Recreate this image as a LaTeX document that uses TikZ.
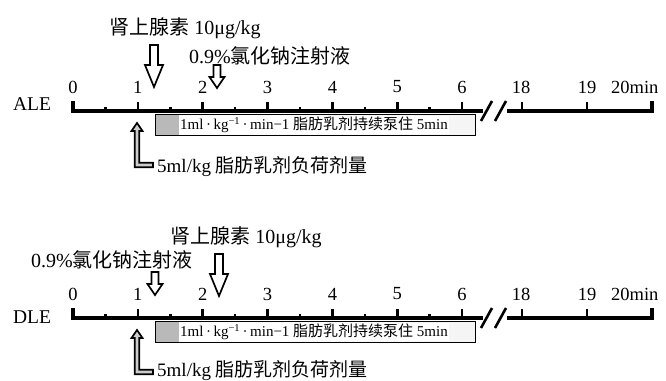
\documentclass[tikz,border=0pt]{standalone}
\usepackage{fontspec}
\setmainfont{Liberation Serif}
\newfontfamily\cjk{Noto Sans CJK SC}
\usetikzlibrary{calc}

\tikzset{
  axisline/.style={line width=3.1pt, line join=miter},
  tickmark/.style={line width=2.5pt},
  breakmark/.style={line width=2.6pt},
  ticklabel/.style={font=\fontsize{18.5}{20}\selectfont, inner sep=0pt},
  rowlabel/.style={font=\fontsize{19.5}{22}\selectfont, inner sep=0pt, anchor=base},
  druglabel/.style={font=\fontsize{20}{22}\selectfont, inner sep=0pt, anchor=base},
  doselabel/.style={font=\fontsize{19}{22}\selectfont, inner sep=0pt, anchor=base west},
  bartext/.style={font=\fontsize{15}{16}\selectfont, fill=white, inner sep=1pt, anchor=west},
  infusionbar/.style={draw=black, line width=1pt, left color=white, right color=gray!8},
  barstrip/.style={fill=gray!55},
  hollow/.style={draw=black, line width=1.7pt, fill=white, line join=miter},
  loadshape/.style={draw=black, line width=1.7pt, fill=gray!40, line join=miter},
  % large hollow arrow (epinephrine), tip at the origin
  epiarrow/.pic={\draw[hollow] (-4,-42) -- (4,-42) -- (4,-22) -- (9,-22) -- (0,0)
      -- (-9,-22) -- (-4,-22) -- cycle;},
  % small hollow arrow (saline), tip at the origin
  salarrow/.pic={\draw[hollow] (-3.5,-23) -- (3.5,-23) -- (3.5,-11) -- (7.5,-11) -- (0,0)
      -- (-7.5,-11) -- (-3.5,-11) -- cycle;},
  % L-shaped loading-dose arrow, tip at the origin
  loadarrow/.pic={\draw[loadshape] (0,0) -- (5.5,8) -- (2.2,8) -- (2.2,39.8) -- (16,39.8)
      -- (16,44.2) -- (-2.2,44.2) -- (-2.2,8) -- (-5.5,8) -- cycle;},
}

\begin{document}
\begin{tikzpicture}[x=1pt, y=-1pt]
\useasboundingbox (0,0) rectangle (666,380);

% two timelines: name prefix / axis height / row label / label baseline / dose baseline
\foreach \p/\yy/\lab/\lb/\db in {A/111/ALE/110/172, D/318/DLE/323/376} {
  % row label
  \node[rowlabel] (\p-name) at (32,\lb) {\lab};
  % axis, first part 0--6 min
  \draw[axisline] (73,\yy-10) -- (73,\yy) -- (483,\yy);
  \foreach \t in {1,...,6}
    \draw[tickmark] ({73+64.85*\t},\yy+1) -- ({73+64.85*\t},\yy-9.5);
  \foreach \t in {0,...,5}
    \draw[tickmark] ({73+64.85*(\t+0.5)},\yy+1) -- ({73+64.85*(\t+0.5)},\yy-4.5);
  \foreach \t in {0,...,6}
    \node[ticklabel] (\p-n\t) at ({73+64.85*\t},\yy-24) {\t};
  % axis break
  \draw[breakmark] (481,\yy+10) -- (492,\yy-10);
  \draw[breakmark] (495,\yy+10) -- (506,\yy-10);
  % axis, second part 18--20 min
  \draw[axisline] (507,\yy) -- (652,\yy) -- (652,\yy-10);
  \foreach \x in {522,587}
    \draw[tickmark] (\x,\yy+1) -- (\x,\yy-9.5);
  \node[ticklabel] (\p-n18) at (521,\yy-24) {18};
  \node[ticklabel] (\p-n19) at (587,\yy-24) {19};
  \node[ticklabel, anchor=west] (\p-n20) at (611,\yy-24) {20min};
  % continuous infusion bar
  \draw[infusionbar] (155,\yy+3.5) rectangle (475,\yy+24.5);
  \fill[barstrip] (155.5,\yy+4) rectangle (179,\yy+24);
  \node[bartext] (\p-bar) at (179,\yy+14)
    {1ml\,·\,kg\textsuperscript{−1}\,·\,min−1 {\cjk 脂肪乳剂持续泵住} 5min};
  % loading dose
  \coordinate (\p-load) at (137,\yy+12);
  \pic at (\p-load) {loadarrow};
  \node[doselabel] (\p-dose) at (157,\db) {5ml/kg {\cjk 脂肪乳剂负荷剂量}};
}

% ALE: epinephrine, then saline
\node[druglabel] (A-epilab) at (185,34) {{\cjk 肾上腺素} 10μg/kg};
\coordinate (A-epi) at (154,87);
\pic at (A-epi) {epiarrow};
\node[druglabel] (A-sallab) at (270,63) {0.9\%{\cjk 氯化钠注射液}};
\coordinate (A-sal) at (217,88);
\pic at (A-sal) {salarrow};

% DLE: saline, then epinephrine
\node[druglabel] (D-sallab) at (112,267) {0.9\%{\cjk 氯化钠注射液}};
\coordinate (D-sal) at (155,295);
\pic at (D-sal) {salarrow};
\node[druglabel] (D-epilab) at (246,243) {{\cjk 肾上腺素} 10μg/kg};
\coordinate (D-epi) at (219,296);
\pic at (D-epi) {epiarrow};
\end{tikzpicture}
\end{document}
